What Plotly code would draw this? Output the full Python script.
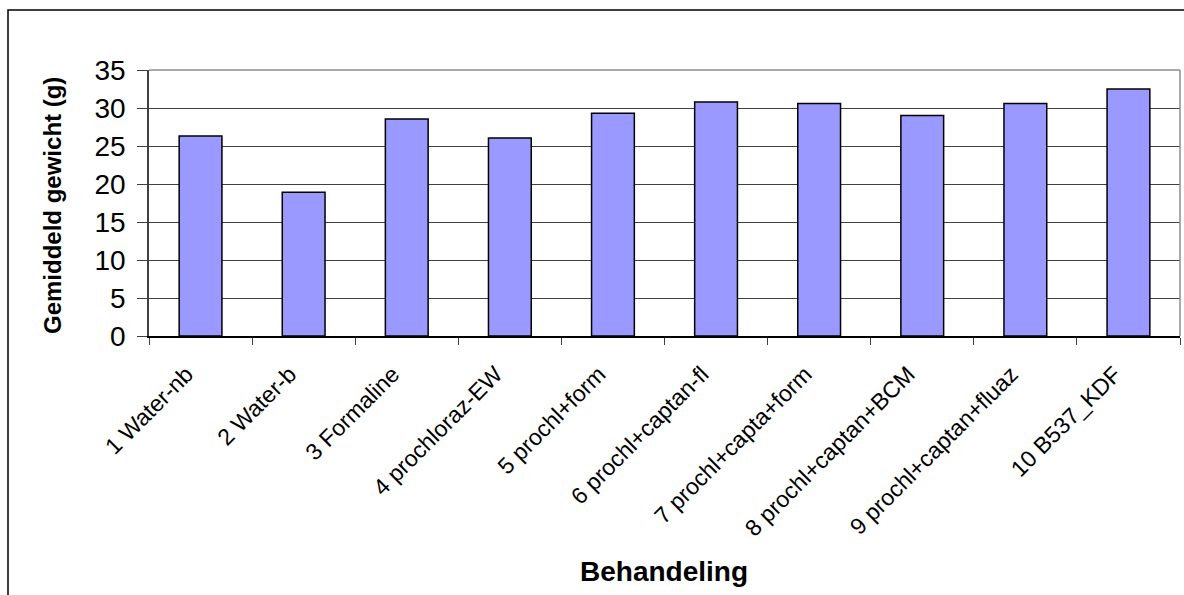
import plotly.graph_objects as go

categories = ["1 Water-nb", "2 Water-b", "3 Formaline", "4 prochloraz-EW",
              "5 prochl+form", "6 prochl+captan-fl", "7 prochl+capta+form",
              "8 prochl+captan+BCM", "9 prochl+captan+fluaz", "10 B537_KDF"]
values = [26.3, 18.9, 28.55, 26.05, 29.3, 30.8, 30.6, 29.0, 30.6, 32.5]
y_ticks = [0, 5, 10, 15, 20, 25, 30, 35]
y_title = "Gemiddeld gewicht (g)"
x_title = "Behandeling"

W, H = 1184, 595
L, R, T, B = 149, 1180, 70, 336
PW, PH = R - L, B - T

fig = go.Figure(go.Bar(
    x=categories, y=values,
    marker=dict(color="#9999FF", line=dict(color="#000000", width=1.5)),
))

fig.update_layout(
    width=W, height=H,
    margin=dict(l=L, r=W - R, t=T, b=H - B, autoexpand=False),
    paper_bgcolor="white", plot_bgcolor="white",
    bargap=0.585,
    showlegend=False,
    font=dict(family="Liberation Sans, Arial, sans-serif", color="black"),
    xaxis=dict(
        type="category",
        tickangle=-45,
        tickfont=dict(size=23, color="black"),
        ticks="outside", tickson="boundaries", ticklen=7, tickcolor="#404040",
        ticklabelstandoff=14, ticklabelshift=-14,
        showline=True, linecolor="#000", linewidth=1.5,
        showgrid=False,
    ),
    yaxis=dict(
        range=[0, 35],
        tickvals=y_ticks,
        tickfont=dict(size=28, color="black"),
        ticks="outside", ticklen=10, tickcolor="#404040",
        ticklabelstandoff=6,
        showline=True, linecolor="#404040", linewidth=1.5,
        showgrid=True, gridcolor="#404040", gridwidth=1,
        zeroline=False,
    ),
    annotations=[
        dict(text="<b>" + y_title + "</b>", xref="paper", yref="paper",
             x=(52 - L) / PW, y=(B - 206) / PH, xanchor="center", yanchor="middle",
             textangle=-90, showarrow=False, font=dict(size=24, color="black")),
        dict(text="<b>" + x_title + "</b>", xref="paper", yref="paper",
             x=(664 - L) / PW, y=(B - 571) / PH, xanchor="center", yanchor="middle",
             showarrow=False, font=dict(size=28, color="black")),
    ],
    shapes=[
        dict(type="line", xref="paper", yref="paper", x0=0, x1=1, y0=1, y1=1,
             line=dict(color="#8c8c8c", width=1.5)),
        dict(type="line", xref="paper", yref="paper", x0=1, x1=1, y0=0, y1=1,
             line=dict(color="#8c8c8c", width=1.5)),
        dict(type="rect", xref="paper", yref="paper",
             x0=(8 - L) / PW, x1=(W + 20 - L) / PW,
             y0=(B - H - 20) / PH, y1=(B - 10) / PH,
             line=dict(color="#000000", width=1.5), layer="below"),
    ],
)

fig.write_html("out.html")
